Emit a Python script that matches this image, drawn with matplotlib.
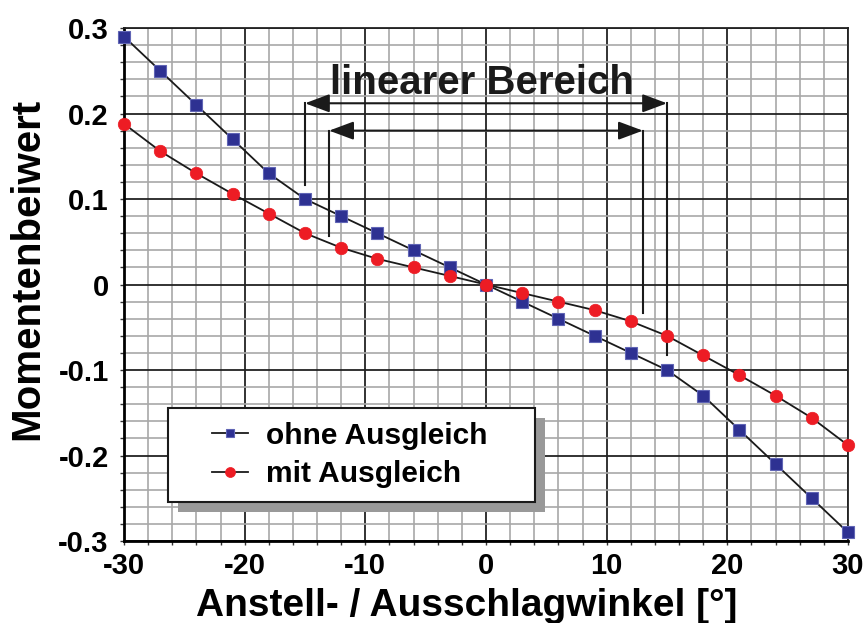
import numpy as np
import matplotlib.pyplot as plt
from matplotlib.patches import Rectangle
from matplotlib.ticker import MultipleLocator

plt.rcParams['font.family'] = ['Liberation Sans', 'DejaVu Sans']
plt.rcParams['font.weight'] = 'bold'

# angle of attack / deflection in degrees
winkel = [-30, -27, -24, -21, -18, -15, -12, -9, -6, -3, 0,
          3, 6, 9, 12, 15, 18, 21, 24, 27, 30]

# moment coefficient without / with balance
ohne_ausgleich = [0.29, 0.25, 0.21, 0.17, 0.13, 0.10, 0.08, 0.06, 0.04, 0.02, 0.0,
                  -0.02, -0.04, -0.06, -0.08, -0.10, -0.13, -0.17, -0.21, -0.25, -0.29]
mit_ausgleich = [0.188, 0.156, 0.13, 0.106, 0.083, 0.06, 0.043, 0.03, 0.02, 0.01, 0.0,
                 -0.01, -0.02, -0.03, -0.043, -0.06, -0.083, -0.106, -0.13, -0.156, -0.188]

xticks = [-30, -20, -10, 0, 10, 20, 30]
xticklabels = ['-30', '-20', '-10', '0', '10', '20', '30']
yticks = [-0.3, -0.2, -0.1, 0.0, 0.1, 0.2, 0.3]
yticklabels = ['-0.3', '-0.2', '-0.1', '0', '0.1', '0.2', '0.3']

# linear ranges: (x_left, x_right, arrow height, bottom of left bar, bottom of right bar)
bereich_aussen = (-15, 15, 0.212, 0.116, -0.082)
bereich_innen = (-13, 13, 0.18, 0.057, -0.033)

fig = plt.figure(figsize=(8.66, 6.23), dpi=100)
ax = fig.add_axes([0.1432, 0.1316, 0.8360, 0.8234])

ax.set_xlim(-30, 30)
ax.set_ylim(-0.3, 0.3)

# grid: dark major lines, grey minor lines
ax.xaxis.set_major_locator(MultipleLocator(10))
ax.xaxis.set_minor_locator(MultipleLocator(2))
ax.yaxis.set_major_locator(MultipleLocator(0.1))
ax.yaxis.set_minor_locator(MultipleLocator(0.02))
ax.grid(which='minor', color='#a8a8a8', lw=1.2, zorder=0)
ax.grid(which='major', color='#222222', lw=1.3, zorder=0)
ax.set_axisbelow(True)

ax.set_xticks(xticks)
ax.set_xticklabels(xticklabels)
ax.set_yticks(yticks)
ax.set_yticklabels(yticklabels)
ax.tick_params(which='both', direction='out', length=3, width=1.0, color='#333333')
ax.tick_params(which='major', labelsize=21)
ax.tick_params(axis='x', which='major', pad=5)
ax.tick_params(axis='y', which='major', pad=8)

for side in ['left', 'bottom']:
    ax.spines[side].set_linewidth(2.0)
for side in ['top', 'right']:
    ax.spines[side].set_linewidth(1.3)
    ax.spines[side].set_color('#222222')

ax.plot(winkel, ohne_ausgleich, color='#1a1a1a', lw=1.3, marker='s', ms=8,
        mfc='#2E3192', mec='#6065b5', mew=0.8, clip_on=False, zorder=4,
        label='ohne Ausgleich')
ax.plot(winkel, mit_ausgleich, color='#1a1a1a', lw=1.3, marker='o', ms=9,
        mfc='#ED1C24', mec='#ED1C24', mew=0.5, clip_on=False, zorder=4,
        label='mit Ausgleich')

# range markers with double arrows
for xl, xr, yh, yl_bot, yr_bot in [bereich_aussen, bereich_innen]:
    ax.plot([xl, xl], [yh, yl_bot], color='#1a1a1a', lw=1.5, zorder=3)
    ax.plot([xr, xr], [yh, yr_bot], color='#1a1a1a', lw=1.5, zorder=3)
    ax.annotate('', xy=(xr, yh), xytext=(xl, yh),
                arrowprops=dict(arrowstyle='<|-|>,head_length=0.75,head_width=0.28',
                                mutation_scale=20, color='#1a1a1a', lw=1.5,
                                shrinkA=0, shrinkB=0), zorder=3)

ax.text(-0.3, 0.223, 'linearer Bereich', fontsize=29, fontweight='bold',
        ha='center', va='baseline', color='#1a1a1a', zorder=3)

# legend box with offset shadow
ax.add_patch(Rectangle((0.0746, 0.0565), 0.507, 0.183, transform=ax.transAxes,
                       facecolor='#999999', edgecolor='none', zorder=5))
ax.add_patch(Rectangle((0.0608, 0.076), 0.507, 0.183, transform=ax.transAxes,
                       facecolor='white', edgecolor='#1a1a1a', lw=1.5, zorder=6))
leg = ax.legend(loc='center', bbox_to_anchor=(0.312, 0.1676), frameon=False,
                prop=dict(size=21.5, weight='bold'), handlelength=1.2,
                handletextpad=0.6, labelspacing=0.35, markerscale=0.8)
leg.set_zorder(7)

ax.set_xlabel('Anstell- / Ausschlagwinkel [°]', fontsize=28, fontweight='bold')
ax.set_ylabel('Momentenbeiwert', fontsize=29, fontweight='bold')
ax.xaxis.set_label_coords(0.474, -0.092)
ax.yaxis.set_label_coords(-0.108, 0.53)

fig.savefig('out.png', dpi=100)
